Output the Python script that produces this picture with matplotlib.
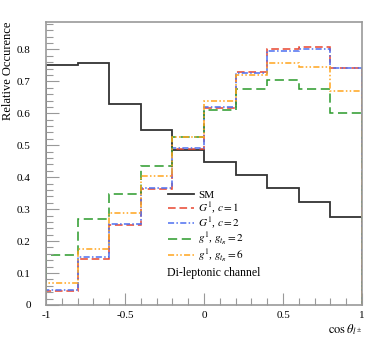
import numpy as np
import matplotlib
matplotlib.use("Agg")
import matplotlib.pyplot as plt
from matplotlib.ticker import MultipleLocator, FixedLocator

plt.rcParams['font.family'] = ['Liberation Serif', 'DejaVu Serif']
plt.rcParams['mathtext.fontset'] = 'stix'
plt.rcParams['axes.unicode_minus'] = False

# bin edges in cos(theta)
edges = [-1.0, -0.8, -0.6, -0.4, -0.2, 0.0, 0.2, 0.4, 0.6, 0.8, 1.0]

sm = [0.752, 0.757, 0.628, 0.549, 0.486, 0.447, 0.407, 0.365, 0.322, 0.275]
G1_c1 = [0.043, 0.145, 0.250, 0.362, 0.487, 0.618, 0.730, 0.800, 0.806, 0.742]
G1_c2 = [0.046, 0.150, 0.255, 0.365, 0.492, 0.620, 0.727, 0.795, 0.800, 0.742]
g1_gt2 = [0.157, 0.269, 0.347, 0.435, 0.525, 0.610, 0.675, 0.703, 0.675, 0.600]
g1_gt6 = [0.068, 0.176, 0.287, 0.404, 0.527, 0.639, 0.720, 0.757, 0.745, 0.671]

labels = ['SM', r'$G^1$, $c = 1$', r'$G^1$, $c = 2$',
          r'$g^1$, $g_{t_R} = 2$', r'$g^1$, $g_{t_R} = 6$']

xticks = [-1, -0.5, 0, 0.5, 1]
xticklabels = ['-1', '-0.5', '0', '0.5', '1']
yticks = [0, 0.1, 0.2, 0.3, 0.4, 0.5, 0.6, 0.7, 0.8]
yticklabels = ['0', '0.1', '0.2', '0.3', '0.4', '0.5', '0.6', '0.7', '0.8']

fig = plt.figure(figsize=(3.74, 3.37), dpi=100)
ax = fig.add_axes([0.123, 0.095, 0.845, 0.840])

ax.stairs(sm, edges, color='#333333', lw=1.3, label=labels[0])
ax.stairs(G1_c1, edges, color='#e8452f', lw=1.1, ls=(0, (5, 2.5)), label=labels[1])
ax.stairs(G1_c2, edges, color='#4d6ff0', lw=1.1, ls=(0, (4, 1.5, 1, 1.5)), label=labels[2])
ax.stairs(g1_gt2, edges, color='#2a9a2a', lw=1.1, ls=(0, (6, 3)), label=labels[3])
ax.stairs(g1_gt6, edges, color='#ffa41c', lw=1.1, ls=(0, (4, 1.5, 1, 1.5, 1, 1.5)), label=labels[4])

ax.set_xlim(-1, 1)
ax.set_ylim(0, 0.886)

ax.xaxis.set_major_locator(FixedLocator(xticks))
ax.xaxis.set_minor_locator(MultipleLocator(0.1))
ax.set_xticklabels(xticklabels)
ax.yaxis.set_major_locator(FixedLocator(yticks))
ax.yaxis.set_minor_locator(MultipleLocator(0.02))
ax.set_yticklabels(yticklabels)

ax.tick_params(which='both', direction='in', top=False, right=False,
               color='#999999', labelsize=8)
ax.tick_params(which='major', length=9, width=0.8)
ax.tick_params(which='minor', length=5, width=0.8)
ax.tick_params(axis='y', pad=11)
ax.tick_params(axis='x', pad=4)
for s in ax.spines.values():
    s.set_color('#999999')
    s.set_linewidth(1.2)

ax.set_ylabel('Relative Occurence', loc='top', fontsize=9, labelpad=2)
ax.set_xlabel(r'$\cos\theta_{l^\pm}$', loc='right', fontsize=9, labelpad=2)

# legend without frame, plus the channel note underneath
leg = ax.legend(loc='upper left', bbox_to_anchor=(0.372, 0.42), frameon=False,
                fontsize=8, handlelength=2.3, handletextpad=0.4,
                labelspacing=0.0, borderaxespad=0)
ax.text(0.383, 0.112, 'Di-leptonic channel', transform=ax.transAxes,
        fontsize=8.5, va='center', ha='left')

fig.savefig('out.png', dpi=100)
